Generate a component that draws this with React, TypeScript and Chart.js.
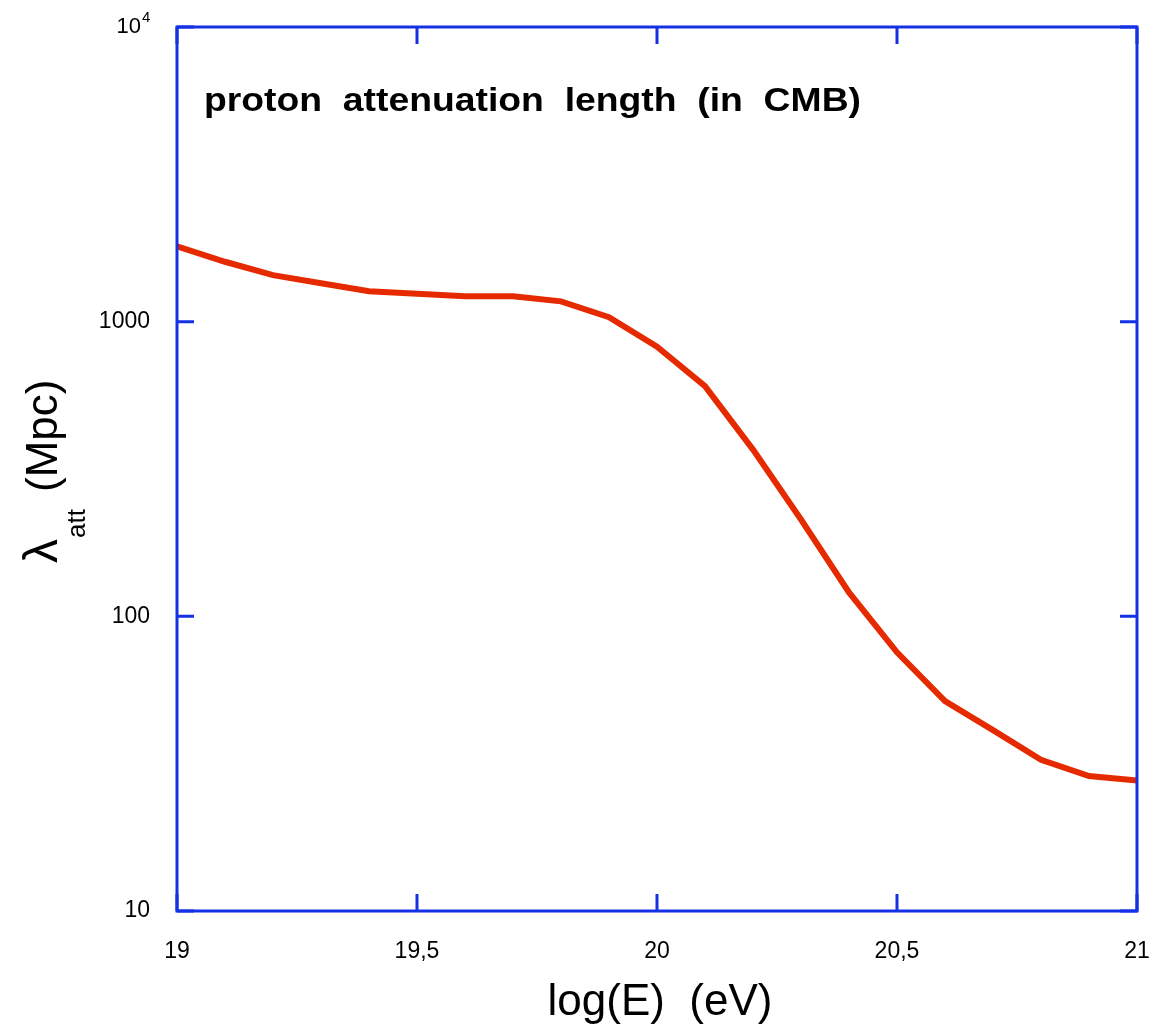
import React, { useEffect, useRef } from "react";
import { Chart, registerables } from "chart.js";

Chart.register(...registerables);

const energies = [19.0, 19.1, 19.2, 19.3, 19.4, 19.5, 19.6, 19.7, 19.8, 19.9, 20.0, 20.1, 20.2, 20.3, 20.4, 20.5, 20.6, 20.7, 20.8, 20.9, 21.0];
const attLength = [1803, 1597, 1438, 1351, 1269, 1244, 1220, 1220, 1172, 1035, 822, 604, 368, 213, 120.5, 75.5, 51.6, 41.1, 32.6, 28.7, 27.7];
const xTicks = [19, 19.5, 20, 20.5, 21];
const yTicks = [10, 100, 1000, 10000];

const FRAME = "#1431e4";
const LINE = "#e62a00";
const FONT = "'Liberation Sans', Arial, Helvetica, sans-serif";

const framePlugin = {
  id: "framePlugin",
  afterDatasetsDraw(chart: any) {
    const { ctx, chartArea } = chart;
    const { left, right, top, bottom } = chartArea;
    const xs = chart.scales.x;
    const ys = chart.scales.y;
    ctx.save();
    ctx.strokeStyle = FRAME;
    ctx.lineWidth = 3;
    ctx.strokeRect(left, top, right - left, bottom - top);
    const tl = 17;
    ctx.beginPath();
    for (const v of xTicks) {
      const px = xs.getPixelForValue(v);
      ctx.moveTo(px, bottom);
      ctx.lineTo(px, bottom - tl);
      ctx.moveTo(px, top);
      ctx.lineTo(px, top + tl);
    }
    for (const v of yTicks) {
      const py = ys.getPixelForValue(v);
      ctx.moveTo(left, py);
      ctx.lineTo(left + tl, py);
      ctx.moveTo(right, py);
      ctx.lineTo(right - tl, py);
    }
    ctx.stroke();
    ctx.restore();
  },
  afterDraw(chart: any) {
    const { ctx } = chart;
    const ys = chart.scales.y;
    ctx.save();
    ctx.fillStyle = "#000";
    // 10^4 label
    const py = ys.getPixelForValue(10000);
    ctx.font = `22px ${FONT}`;
    ctx.textBaseline = "middle";
    ctx.textAlign = "right";
    ctx.fillText("10", 141, py);
    ctx.font = `15px ${FONT}`;
    ctx.textAlign = "left";
    ctx.fillText("4", 142, py - 9);

    // plot title
    const title = "proton  attenuation  length  (in  CMB)";
    ctx.font = `bold 34px ${FONT}`;
    ctx.textBaseline = "alphabetic";
    const w = ctx.measureText(title).width;
    ctx.save();
    ctx.translate(204, 111);
    ctx.scale(657 / w, 1);
    ctx.fillText(title, 0, 0);
    ctx.restore();

    // x title
    ctx.font = `44px ${FONT}`;
    ctx.textAlign = "center";
    ctx.fillText("log(E)  (eV)", 660, 1015);

    // y title
    ctx.save();
    ctx.translate(57, 563);
    ctx.rotate(-Math.PI / 2);
    ctx.textAlign = "left";
    ctx.font = `48px ${FONT}`;
    ctx.fillText("\u03bb", 0, 0);
    ctx.font = `26px ${FONT}`;
    ctx.fillText("att", 25, 28);
    ctx.font = `44px ${FONT}`;
    ctx.fillText("(Mpc)", 71, 0);
    ctx.restore();
    ctx.restore();
  },
};

export default function App() {
  const ref = useRef<HTMLCanvasElement | null>(null);
  useEffect(() => {
    if (!ref.current) return;
    const chart = new Chart(ref.current, {
      type: "scatter",
      data: {
        datasets: [
          {
            data: energies.map((e, i) => ({ x: e, y: attLength[i] })),
            showLine: true,
            borderColor: LINE,
            borderWidth: 6,
            pointRadius: 0,
            tension: 0,
            fill: false,
          },
        ],
      },
      options: {
        animation: false,
        responsive: false,
        devicePixelRatio: 1,
        layout: { padding: { top: 27, right: 12, left: 0, bottom: 0 } },
        plugins: { legend: { display: false }, tooltip: { enabled: false }, title: { display: false } },
        scales: {
          x: {
            type: "linear",
            min: 19,
            max: 21,
            afterBuildTicks: (s: any) => {
              s.ticks = xTicks.map((v) => ({ value: v }));
            },
            afterFit: (s: any) => {
              s.height = 118;
              s.paddingLeft = 0;
              s.paddingRight = 0;
            },
            grid: { display: false, drawTicks: false },
            border: { display: false },
            ticks: {
              padding: 27,
              color: "#000",
              font: { family: FONT, size: 23 },
              maxRotation: 0,
              callback: (v: any) => String(v).replace(".", ","),
            },
          },
          y: {
            type: "logarithmic",
            min: 10,
            max: 10000,
            afterBuildTicks: (s: any) => {
              s.ticks = yTicks.map((v) => ({ value: v }));
            },
            afterFit: (s: any) => {
              s.width = 177;
              s.paddingTop = 0;
              s.paddingBottom = 0;
            },
            grid: { display: false, drawTicks: false },
            border: { display: false },
            ticks: {
              padding: 27,
              color: "#000",
              font: { family: FONT, size: 23 },
              callback: (v: any) => (v === 10000 ? "" : String(v)),
            },
          },
        },
      },
      plugins: [framePlugin],
    } as any);
    return () => chart.destroy();
  }, []);
  return (
    <div style={{ position: "absolute", left: 0, top: 0, width: 1149, height: 1029, background: "#fff" }}>
      <canvas ref={ref} width={1149} height={1029} style={{ display: "block" }} />
    </div>
  );
}
